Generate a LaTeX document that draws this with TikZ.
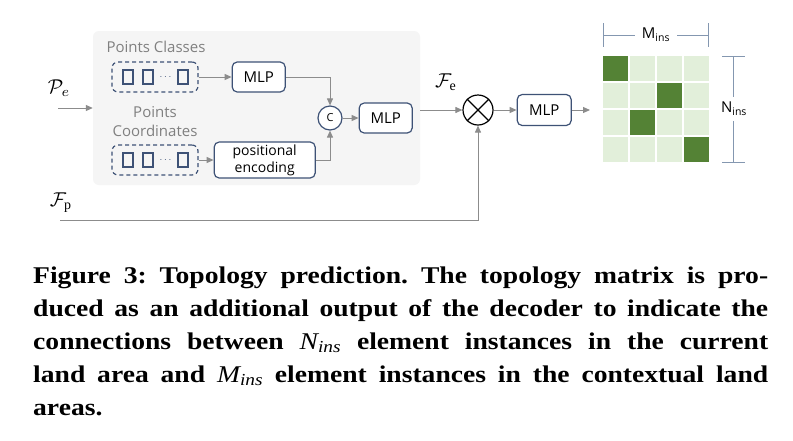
\documentclass[tikz,border=0pt]{standalone}
\usepackage{fontspec}
\setmainfont{Liberation Serif}
\newfontfamily\diafont{Open Sans}
\newfontfamily\capfont[FakeStretch=1.15]{Liberation Serif}
\usetikzlibrary{arrows.meta, positioning, calc}
\definecolor{boxblue}{RGB}{62,82,118}
\definecolor{linegray}{RGB}{140,140,140}
\definecolor{panelgray}{RGB}{245,245,245}
\definecolor{titlegray}{RGB}{128,128,128}
\definecolor{dimblue}{RGB}{132,151,176}
\definecolor{darkgreen}{RGB}{84,130,53}
\definecolor{lightgreen}{RGB}{226,239,218}
\tikzstyle{block} = [rectangle, rounded corners=5pt, draw=boxblue, line width=1.2pt, fill=white, align=center, inner sep=0pt, minimum width=53pt, minimum height=30pt, font=\diafont\fontsize{15}{17}\selectfont]
\tikzstyle{slot} = [rectangle, rounded corners=6pt, draw=boxblue, line width=1.2pt, dash pattern=on 4pt off 3pt, minimum width=86pt, minimum height=30pt]
\tikzstyle{sq} = [rectangle, draw=boxblue, line width=1.3pt, minimum width=10pt, minimum height=14pt, inner sep=0pt]
\tikzstyle{title} = [align=center, text=titlegray, font=\diafont\fontsize{15}{19}\selectfont]
\tikzstyle{arrow} = [line width=1pt, draw=linegray, -{Triangle[length=7pt, width=6pt]}, color=linegray]
\tikzstyle{cell} = [rectangle, fill=lightgreen, minimum size=24.5pt, inner sep=0pt]
\tikzstyle{dim} = [line width=1pt, draw=dimblue]
\tikzstyle{sym} = [inner sep=0pt]
\tikzstyle{capline} = [anchor=base west, inner sep=0pt, font=\capfont\bfseries\fontsize{24}{33}\selectfont\frenchspacing]

\begin{document}
\begin{tikzpicture}[x=1pt, y=-1pt]
    \path[fill=white] (0,0) rectangle (793,440);
    \useasboundingbox (0,0) rectangle (793,440);

    % encoder panel
    \node[rectangle, rounded corners=6pt, fill=panelgray, minimum width=327pt, minimum height=154pt] (panel) at (256.5,108) {};

    \node[title] (clsTitle) at (156,47) {Points Classes};
    \node[slot] (clsBox) at (155,77) {};
    \node[block, right=33pt of clsBox] (mlpA) {MLP};

    \node[title] (crdTitle) at (155,122) {Points\\Coordinates};
    \node[slot] (crdBox) at (155,160) {};
    \node[block, minimum width=101pt, minimum height=36pt, font=\diafont\fontsize{14}{17}\selectfont, right=15pt of crdBox] (posenc) {positional\\encoding};

    \foreach \s/\dx in {a/-27, b/-7, c/28} {
        \node[sq] (cls-\s) at ($(clsBox)+(\dx,0)$) {};
        \node[sq] (crd-\s) at ($(crdBox)+(\dx,0)$) {};
    }
    \node[text=boxblue, inner sep=0pt] (clsDots) at ($(clsBox)+(10.5,0)$) {$\cdots$};
    \node[text=boxblue, inner sep=0pt] (crdDots) at ($(crdBox)+(10.5,0)$) {$\cdots$};

    \node[circle, draw=boxblue, line width=1.2pt, fill=white, minimum size=24pt, inner sep=0pt, font=\diafont\fontsize{11}{12}\selectfont] (cat) at (330,118) {C};
    \node[block, right=16pt of cat] (mlpB) {MLP};

    \draw[arrow] (clsBox) -- (mlpA);
    \draw[arrow] (crdBox) -- (posenc);
    \draw[arrow] (mlpA.east) -| (cat.north);
    \draw[arrow] (posenc.east) -| (cat.south);
    \draw[arrow] (cat) -- (mlpB);

    % inputs
    \node[sym] (pe) at (59,88) {\scalebox{2}{$\mathcal{P}_e$}};
    \coordinate (peIn) at (58,108);
    \draw[arrow] (peIn) -- (panel.west |- peIn);

    \node[sym] (fp) at (61,203) {\scalebox{2}{$\mathcal{F}_\mathrm{p}$}};
    \coordinate (fpIn) at (60,220);

    % fusion and prediction head
    \node[circle, draw=black, line width=1.2pt, minimum size=30pt, inner sep=0pt] (prod) at (478,110) {};
    \draw[line width=1.2pt] (prod.north east) -- (prod.south west);
    \draw[line width=1.2pt] (prod.north west) -- (prod.south east);
    \node[sym] (fe) at (446,82) {\scalebox{2}{$\mathcal{F}_\mathrm{e}$}};
    \node[block, minimum width=54pt, minimum height=31pt, right=23pt of prod] (mlpC) {MLP};
    \coordinate (mOut) at (590,110);

    \draw[arrow] (panel.east |- prod.west) -- (prod.west);
    \draw[arrow] (fpIn) -| (prod.south);
    \draw[arrow] (prod) -- (mlpC);
    \draw[arrow] (mlpC) -- (mOut);

    % topology matrix
    \foreach \r in {0,...,3}
        \foreach \c in {0,...,3}
            \node[cell] (m-\r-\c) at (615.25+27*\c, 68.25+27*\r) {};
    \foreach \r/\c in {0/0, 1/2, 2/1, 3/3}
        \fill[darkgreen] (m-\r-\c.south west) rectangle (m-\r-\c.north east);

    \coordinate (mL) at (603,35);
    \coordinate (mR) at (708,35);
    \node[inner sep=7pt, font=\diafont\fontsize{15}{17}\selectfont] (mLab) at (656,35) {M\textsubscript{ins}};
    \draw[dim] (mL) -- (mLab.west);
    \draw[dim] (mLab.east) -- (mR);
    \draw[dim] ($(mL)+(0,-12)$) -- ($(mL)+(0,12)$);
    \draw[dim] ($(mR)+(0,-12)$) -- ($(mR)+(0,12)$);

    \coordinate (nT) at (733,56);
    \coordinate (nB) at (733,162);
    \node[inner sep=5pt, font=\diafont\fontsize{15}{17}\selectfont] (nLab) at (734,109) {N\textsubscript{ins}};
    \draw[dim] (nT) -- (nLab.north -| nT);
    \draw[dim] (nLab.south -| nB) -- (nB);
    \draw[dim] ($(nT)+(-11,0)$) -- ($(nT)+(12,0)$);
    \draw[dim] ($(nB)+(-11,0)$) -- ($(nB)+(12,0)$);

    % caption
    \node[capline] (cap1) at (33,283) {\makebox[735pt][s]{Figure 3: Topology prediction. The topology matrix is pro-}};
    \node[capline] (cap2) at (33,316) {\makebox[735pt][s]{duced as an additional output of the decoder to indicate the}};
    \node[capline] (cap3) at (33,349) {\makebox[735pt][s]{connections between {\mdseries\itshape N\textsubscript{ins}} element instances in the current}};
    \node[capline] (cap4) at (33,382) {\makebox[735pt][s]{land area and {\mdseries\itshape M\textsubscript{ins}} element instances in the contextual land}};
    \node[capline] (cap5) at (33,415) {areas.};
\end{tikzpicture}
\end{document}
